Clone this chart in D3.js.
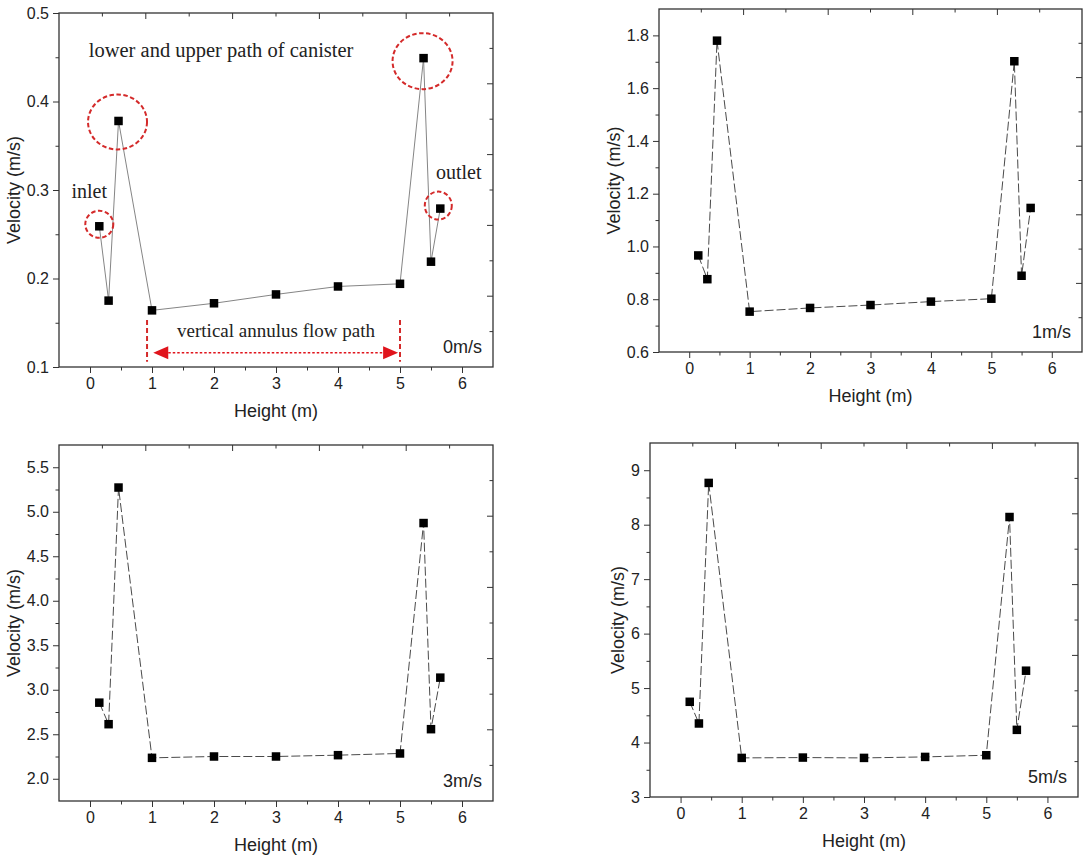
<!DOCTYPE html>
<html>
<head>
<meta charset="utf-8">
<script src="https://cdnjs.cloudflare.com/ajax/libs/d3/7.8.5/d3.min.js"></script>
<style>
  html, body { margin: 0; padding: 0; background: #fff; }
  svg { display: block; }
  text { font-family: Arial, "Liberation Sans", sans-serif; fill: #222; }
  .serif { font-family: "Times New Roman", "Liberation Serif", serif; }
</style>
</head>
<body>
<svg id="chart" width="1087" height="859"></svg>
<script>
// ---------------- DATA ----------------
const heights = [0.15, 0.3, 0.46, 1, 2, 3, 4, 5, 5.38, 5.5, 5.65];
const vel0 = [0.259, 0.175, 0.378, 0.164, 0.172, 0.182, 0.191, 0.194, 0.449, 0.219, 0.279];
const vel1 = [0.966, 0.876, 1.78, 0.753, 0.767, 0.778, 0.791, 0.802, 1.702, 0.889, 1.146];
const vel3 = [2.855, 2.613, 5.272, 2.235, 2.25, 2.25, 2.265, 2.284, 4.873, 2.557, 3.136];
const vel5 = [4.748, 4.35, 8.767, 3.718, 3.724, 3.718, 3.736, 3.767, 8.141, 4.233, 5.319];

const xTicks = [0, 1, 2, 3, 4, 5, 6];
const yTicks0 = [0.1, 0.2, 0.3, 0.4, 0.5];
const yTicks1 = [0.6, 0.8, 1.0, 1.2, 1.4, 1.6, 1.8];
const yTicks3 = [2.0, 2.5, 3.0, 3.5, 4.0, 4.5, 5.0, 5.5];
const yTicks5 = [3, 4, 5, 6, 7, 8, 9];

const panelLabels = ["0m/s", "1m/s", "3m/s", "5m/s"];
const xTitle = "Height (m)";
const yTitle = "Velocity (m/s)";

// annotation texts (panel 0)
const noteTop = "lower and upper path of canister";
const noteInlet = "inlet";
const noteOutlet = "outlet";
const noteAnnulus = "vertical annulus flow path";

// ---------------- LAYOUT ----------------
const panels = [
  { vals: vel0, yTicks: yTicks0, yDom: [0.1, 0.5], yMinorStep: 0.05, fmt: d3.format(".1f"),
    box: { l: 59, r: 493, t: 13, b: 367 }, solid: true },
  { vals: vel1, yTicks: yTicks1, yDom: [0.6, 1.9], yMinorStep: 0.1, fmt: d3.format(".1f"),
    box: { l: 659, r: 1082, t: 9, b: 352 } },
  { vals: vel3, yTicks: yTicks3, yDom: [1.75, 5.75], yMinorStep: 0.25, fmt: d3.format(".1f"),
    box: { l: 59, r: 493, t: 445, b: 801 } },
  { vals: vel5, yTicks: yTicks5, yDom: [3, 9.5], yMinorStep: 0.5, fmt: d3.format("d"),
    box: { l: 650, r: 1078, t: 443, b: 797 } }
];

const svg = d3.select("#chart");
const frameColor = "#333";

panels.forEach((p, i) => {
  const B = p.box;
  const x = d3.scaleLinear().domain([-0.5, 6.5]).range([B.l, B.r]);
  const y = d3.scaleLinear().domain(p.yDom).range([B.b, B.t]);
  p.x = x; p.y = y;
  const g = svg.append("g");

  // minor ticks
  const xMinor = d3.range(-0.5, 6.5001, 0.5).filter(v => !xTicks.includes(v) && v > -0.5 && v < 6.5);
  const yMinor = [];
  for (let v = p.yDom[0]; v <= p.yDom[1] + 1e-9; v += p.yMinorStep) {
    const r = Math.round(v * 1000) / 1000;
    if (!p.yTicks.some(t => Math.abs(t - r) < 1e-6) && r > p.yDom[0] + 1e-9 && r < p.yDom[1] - 1e-9) yMinor.push(r);
  }

  g.append("g").attr("transform", `translate(0,${B.b})`)
    .call(d3.axisBottom(x).tickValues(xTicks).tickSize(6).tickSizeOuter(0).tickPadding(5).tickFormat(d3.format("d")));
  g.append("g").attr("transform", `translate(0,${B.b})`)
    .call(d3.axisBottom(x).tickValues(xMinor).tickSize(3.5).tickSizeOuter(0).tickFormat(""));

  const left = g.append("g").attr("transform", `translate(${B.l},0)`)
    .call(d3.axisLeft(y).tickValues(p.yTicks).tickSize(6).tickSizeOuter(0).tickPadding(4).tickFormat(p.fmt));
  g.append("g").attr("transform", `translate(${B.l},0)`)
    .call(d3.axisLeft(y).tickValues(yMinor).tickSize(3.5).tickSizeOuter(0).tickFormat(""));

  // mirror axes (top / right), 10 divisions, inward ticks
  const mx = d3.scaleLinear().domain([0, 10]).range([B.l, B.r]);
  const my = d3.scaleLinear().domain([0, 10]).range([B.b, B.t]);
  const div = d3.range(1, 10);
  g.append("g").selectAll("line.mt").data(div).join("line")
    .attr("x1", d => mx(d)).attr("x2", d => mx(d))
    .attr("y1", B.t).attr("y2", d => B.t + (d % 2 === 0 ? 6 : 3.5))
    .attr("stroke", frameColor).attr("stroke-width", 1);
  g.append("g").selectAll("line.mr").data(div).join("line")
    .attr("y1", d => my(d)).attr("y2", d => my(d))
    .attr("x1", B.r).attr("x2", d => B.r - (d % 2 === 0 ? 6 : 3.5))
    .attr("stroke", frameColor).attr("stroke-width", 1);

  g.selectAll(".domain").remove();
  g.selectAll(".tick line").attr("stroke", frameColor).attr("stroke-width", 1);
  g.selectAll(".tick text").attr("font-size", 16).attr("fill", "#222")
    .attr("font-family", "Arial, 'Liberation Sans', sans-serif");

  // frame
  g.append("rect").attr("x", B.l).attr("y", B.t).attr("width", B.r - B.l).attr("height", B.b - B.t)
    .attr("fill", "none").attr("stroke", frameColor).attr("stroke-width", 1.3);

  // axis titles
  g.append("text").attr("x", (B.l + B.r) / 2).attr("y", B.b + 50)
    .attr("text-anchor", "middle").attr("font-size", 18).text(xTitle);

  let maxW = 0;
  left.selectAll(".tick text").each(function () { maxW = Math.max(maxW, this.getBBox().width); });
  const tx = B.l - 10 - maxW - 13;
  const ty = (B.t + B.b) / 2;
  g.append("text").attr("transform", `translate(${tx},${ty}) rotate(-90)`)
    .attr("text-anchor", "middle").attr("dominant-baseline", "central")
    .attr("font-size", 18).text(yTitle);

  // data line
  const pts = heights.map((h, k) => [h, p.vals[k]]);
  const line = d3.line().x(d => x(d[0])).y(d => y(d[1]));
  g.append("path").datum(pts).attr("d", line).attr("fill", "none")
    .attr("stroke", p.solid ? "#858585" : "#4a4a4a")
    .attr("stroke-width", 1)
    .attr("stroke-dasharray", p.solid ? null : "9,3");

  // markers
  const ms = 8.5;
  g.append("g").selectAll("rect").data(pts).join("rect")
    .attr("x", d => x(d[0]) - ms / 2).attr("y", d => y(d[1]) - ms / 2)
    .attr("width", ms).attr("height", ms).attr("fill", "#000");

  // panel label
  g.append("text").attr("x", B.r - 11).attr("y", B.b - 14)
    .attr("text-anchor", "end").attr("font-size", 18).text(panelLabels[i]);
});

// ---------------- ANNOTATIONS (panel 0) ----------------
(function () {
  const p = panels[0], x = p.x, y = p.y;
  const g = svg.append("g");
  const red = "#d42a2a";

  g.append("text").attr("class", "serif").attr("x", x(-0.02)).attr("y", y(0.45))
    .attr("font-size", 20.5).text(noteTop);
  g.append("text").attr("class", "serif").attr("x", x(-0.3)).attr("y", y(0.291))
    .attr("font-size", 20).text(noteInlet);
  g.append("text").attr("class", "serif").attr("x", x(5.58)).attr("y", y(0.312))
    .attr("font-size", 20).text(noteOutlet);
  g.append("text").attr("class", "serif").attr("x", x(3.0)).attr("y", y(0.134))
    .attr("text-anchor", "middle").attr("font-size", 19).text(noteAnnulus);

  // dashed ellipses around selected points: [point index, rx, ry, dx, dy]
  const rings = [[0, 14, 13.5, 0, -2], [2, 29.5, 27.5, -1, 1], [8, 30, 28, -1, 3], [10, 13.5, 14, -2, -3]];
  g.selectAll("ellipse").data(rings).join("ellipse")
    .attr("cx", d => x(heights[d[0]]) + d[3]).attr("cy", d => y(p.vals[d[0]]) + d[4])
    .attr("rx", d => d[1]).attr("ry", d => d[2])
    .attr("fill", "none").attr("stroke", red).attr("stroke-width", 2)
    .attr("stroke-dasharray", "4.5,2.5");

  // vertical dashed bounds
  [0.92, 5.0].forEach(v => {
    g.append("line").attr("x1", x(v)).attr("x2", x(v)).attr("y1", y(0.153)).attr("y2", y(0.106))
      .attr("stroke", red).attr("stroke-width", 2).attr("stroke-dasharray", "5,3");
  });

  // double arrow
  const ay = y(0.116), xa = x(1.02), xb = x(4.97), hl = 15, hh = 6.5;
  g.append("line").attr("x1", xa + hl).attr("x2", xb - hl).attr("y1", ay).attr("y2", ay)
    .attr("stroke", "#e0141c").attr("stroke-width", 1.5).attr("stroke-dasharray", "2.5,2");
  g.append("path").attr("d", `M${xa},${ay}L${xa + hl},${ay - hh}L${xa + hl},${ay + hh}Z`).attr("fill", "#e0141c");
  g.append("path").attr("d", `M${xb},${ay}L${xb - hl},${ay - hh}L${xb - hl},${ay + hh}Z`).attr("fill", "#e0141c");
})();
</script>
</body>
</html>
